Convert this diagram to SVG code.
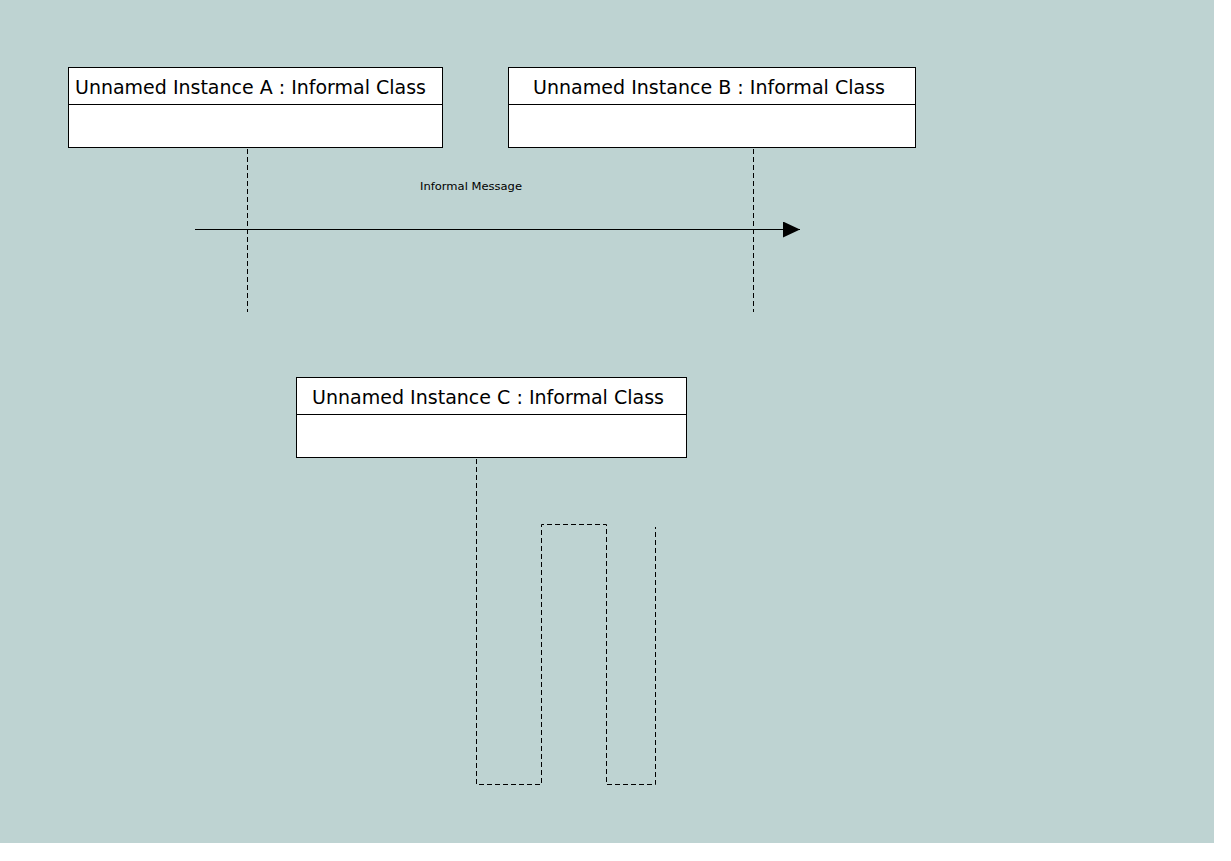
<svg xmlns="http://www.w3.org/2000/svg" width="1231" height="861" viewBox="0 0 1231 861">
<style>
.box{fill:#fff;stroke:#000;stroke-width:1}
.t{font-family:"DejaVu Sans","Liberation Sans",sans-serif;font-size:19px;fill:#000}
.life{fill:none;stroke:#000;stroke-width:1;stroke-dasharray:5,3}
.msg{stroke:#000;stroke-width:1;fill:none}
.lbl{font-family:"DejaVu Sans","Liberation Sans",sans-serif;font-size:11px;fill:#000}
</style>
<defs>
<marker id="arr" markerWidth="18" markerHeight="18" refX="17" refY="8" orient="auto" markerUnits="userSpaceOnUse">
<path d="M0,0 L17,8 L0,16 Z" fill="#000"/>
</marker>
</defs>
<rect x="0" y="0" width="1231" height="861" fill="#fff"/>
<rect x="0" y="0" width="1214" height="843" fill="#bed3d2"/>
<g id="nodeA">
<rect class="box" x="68.500" y="67.500" width="374" height="80"/>
<line x1="68.500" y1="104.500" x2="442.500" y2="104.500" stroke="#000"/>
<text class="t" x="75" y="94" textLength="351" lengthAdjust="spacingAndGlyphs">Unnamed Instance A : Informal Class</text>
</g>
<g id="nodeB">
<rect class="box" x="508.500" y="67.500" width="407" height="80"/>
<line x1="508.500" y1="104.500" x2="915.500" y2="104.500" stroke="#000"/>
<text class="t" x="533" y="94" textLength="352" lengthAdjust="spacingAndGlyphs">Unnamed Instance B : Informal Class</text>
</g>
<g id="nodeC">
<rect class="box" x="296.500" y="377.500" width="390" height="80"/>
<line x1="296.500" y1="414.500" x2="686.500" y2="414.500" stroke="#000"/>
<text class="t" x="312" y="404" textLength="352" lengthAdjust="spacingAndGlyphs">Unnamed Instance C : Informal Class</text>
</g>
<g id="connectors">
<line class="life" x1="247.500" y1="149" x2="247.500" y2="312"/>
<line class="life" x1="753.500" y1="149" x2="753.500" y2="312"/>
<line class="msg" x1="195" y1="229.500" x2="800" y2="229.500" marker-end="url(#arr)"/>
<text class="lbl" x="420" y="190" textLength="102" lengthAdjust="spacingAndGlyphs">Informal Message</text>
<path class="life" d="M476.500,459 L476.500,784.500 L541.500,784.500 L541.500,524.500 L606.500,524.500 L606.500,784.500 L655.500,784.500 L655.500,527"/>
</g>
</svg>
